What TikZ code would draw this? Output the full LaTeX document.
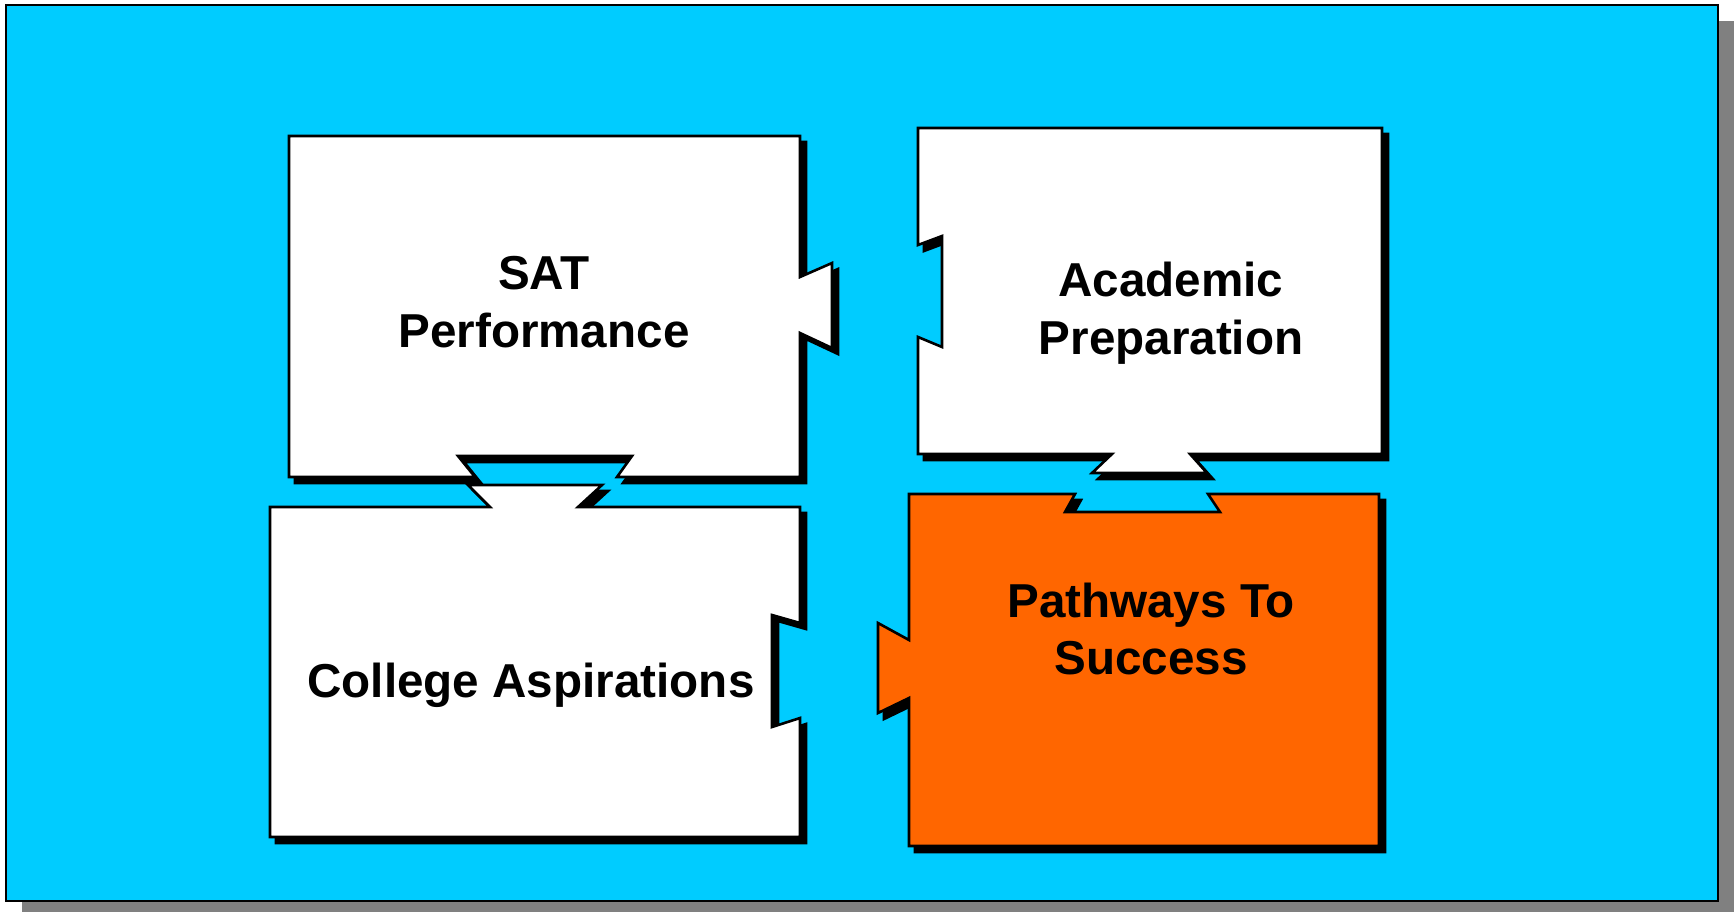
\documentclass[tikz,border=0pt]{standalone}
\usepackage{fontspec}
\setmainfont{Liberation Sans}
\definecolor{bgblue}{HTML}{00CCFF}
\definecolor{porange}{HTML}{FF6600}
\definecolor{shgray}{HTML}{808080}
\begin{document}
\begin{tikzpicture}[x=0.5pt,y=-0.5pt,
  piece/.style={draw=black,line width=1.3pt,line join=miter},
  pshadow/.style={fill=black,draw=black,line width=1.3pt},
  lbl/.style={font=\bfseries\fontsize{23.8}{28.8}\selectfont,align=center,text=black}]
\useasboundingbox (0,0) rectangle (1734,912);
% background panel
\fill[shgray] (22,21) rectangle (1734,912);
\draw[fill=bgblue,line width=1.4pt] (6,5) rectangle (1718,901);
% shapes
\def\satpath{(289,136) -- (800,136) -- (800,277) -- (832,263) -- (832,348) -- (800,333) -- (800,477) -- (617,477) -- (632,456) -- (458,456) -- (475,477) -- (289,477) -- cycle}
\def\acadpath{(918,128) -- (1382,128) -- (1382,454) -- (1190,454) -- (1207,473) -- (1092,473) -- (1112,454) -- (918,454) -- (918,337) -- (942,347) -- (942,236) -- (918,245) -- cycle}
\def\collpath{(270,507) -- (490,507) -- (468,485) -- (602,485) -- (578,507) -- (800,507) -- (800,623) -- (772,615) -- (772,727) -- (800,718) -- (800,837) -- (270,837) -- cycle}
\def\pathpath{(909,494) -- (1075,494) -- (1065,512) -- (1220,512) -- (1208,494) -- (1379,494) -- (1379,846) -- (909,846) -- (909,698) -- (878,713) -- (878,623) -- (909,640) -- cycle}
\begin{scope}[shift={(6,6)}]
  \path[pshadow] \satpath;
  \path[pshadow] \acadpath;
  \path[pshadow] \collpath;
  \path[pshadow] \pathpath;
\end{scope}
\path[piece,fill=white] \satpath;
\path[piece,fill=white] \acadpath;
\path[piece,fill=white] \collpath;
\path[piece,fill=porange] \pathpath;
% labels
\node[lbl] (sat) at (544,302) {SAT\\Performance};
\node[lbl] (acad) at (1171,313) {Academic\\Preparation};
\node[lbl] (coll) at (531,685) {College Aspirations};
\node[lbl] (path) at (1151,629) {Pathways To\\Success};
\end{tikzpicture}
\end{document}
